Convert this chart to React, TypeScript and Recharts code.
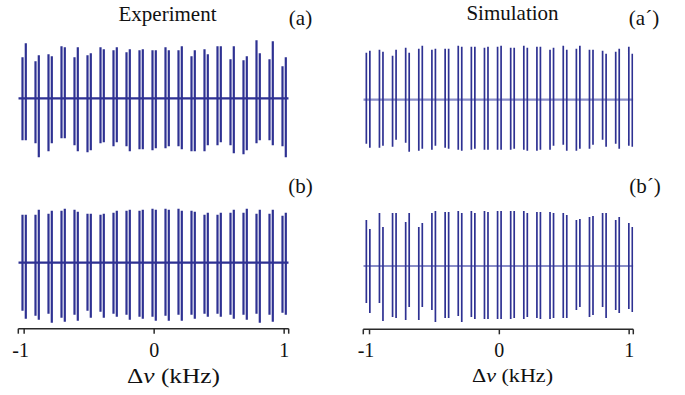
import React from 'react';
import { LineChart, Line, XAxis, YAxis } from 'recharts';

const W = 685;
const H = 395;
const FONT = 'Liberation Serif';
const INK = '#2e3192';
const SIM_BASE = '#8a8ec8';
const AXIS = '#2a2a2a';

// tick labels
const tickValues = [-1, 0, 1];

// line-pair centre positions (kHz)
const expPositions = [-1.0, -0.9, -0.8, -0.7, -0.6, -0.5, -0.4, -0.3, -0.2, -0.1, 0, 0.1, 0.2, 0.3, 0.4, 0.5, 0.6, 0.7, 0.8, 0.9, 1.0];
const simPositions = [-1.011, -0.91, -0.809, -0.708, -0.607, -0.506, -0.404, -0.303, -0.202, -0.101, 0, 0.101, 0.202, 0.303, 0.404, 0.506, 0.607, 0.708, 0.809, 0.91, 1.011];
const expSplit = 0.0127;
const simSplit = 0.0135;

// (a) Experiment
const aTop1 = [41, 37, 44, 52, 41, 43, 51, 48, 46, 48, 48, 51, 48, 42, 49, 52, 39, 38, 58, 39, 32];
const aBot1 = [-42, -45, -53, -40, -47, -54, -45, -48, -48, -51, -52, -50, -48, -53, -53, -47, -47, -56, -45, -42, -48];
const aTop2 = [55, 43, 42, 51, 51, 45, 49, 51, 49, 49, 48, 48, 52, 48, 44, 52, 52, 42, 45, 57, 41];
const aBot2 = [-42, -59, -45, -40, -53, -52, -44, -44, -53, -51, -50, -48, -51, -53, -47, -44, -55, -52, -42, -47, -59];

// (b) Experiment
const bTop1 = [48, 48, 49, 52, 53, 49, 48, 50, 52, 52, 54, 54, 54, 52, 48, 48, 50, 50, 49, 49, 47];
const bBot1 = [-48, -53, -51, -55, -52, -48, -49, -51, -52, -54, -54, -53, -52, -52, -51, -51, -52, -52, -51, -52, -50];
const bTop2 = [48, 53, 52, 54, 51, 49, 49, 52, 53, 53, 53, 53, 52, 51, 50, 50, 53, 54, 53, 53, 50];
const bBot2 = [-56, -57, -60, -59, -58, -55, -55, -54, -57, -56, -58, -58, -58, -56, -54, -54, -56, -57, -60, -59, -52];

// (a') Simulation
const apTop1 = [47, 50, 44, 52, 51, 50, 51, 54, 53, 52, 53, 52, 54, 53, 50, 54, 51, 50, 49, 48, 53];
const apBot1 = [-44, -48, -47, -43, -51, -50, -48, -50, -50, -50, -50, -50, -50, -51, -50, -45, -51, -49, -40, -44, -46];
const apTop2 = [49, 48, 50, 47, 54, 51, 51, 53, 53, 53, 54, 52, 52, 53, 52, 50, 54, 50, 46, 51, 46];
const apBot2 = [-48, -46, -40, -52, -49, -46, -49, -51, -49, -50, -50, -49, -51, -50, -46, -51, -49, -45, -47, -49, -47];

// (b') Simulation
const bpTop1 = [46, 53, 53, 44, 39, 53, 54, 55, 55, 55, 55, 55, 55, 54, 54, 53, 46, 49, 53, 46, 43];
const bpBot1 = [-37, -37, -51, -54, -54, -44, -52, -50, -51, -53, -53, -53, -53, -52, -53, -52, -44, -51, -41, -44, -43];
const bpTop2 = [37, 39, 53, 53, 43, 55, 54, 53, 53, 54, 55, 55, 53, 54, 53, 51, 47, 50, 53, 49, 39];
const bpBot2 = [-47, -55, -52, -41, -41, -56, -52, -56, -53, -53, -53, -52, -51, -53, -52, -52, -41, -49, -52, -47, -46];

type Pt = { x: number; y: number | null };

// experiment: one continuous trace (baseline + dispersive lines)
function buildExp(pos: number[], t1: number[], b1: number[], t2: number[], b2: number[], x0: number, x1: number): Pt[] {
  const out: Pt[] = [{ x: x0, y: 0 }];
  pos.forEach((p, i) => {
    const xa = p - expSplit;
    const xb = p + expSplit;
    out.push({ x: xa, y: 0 }, { x: xa, y: t1[i] }, { x: xa, y: b1[i] }, { x: xa, y: 0 });
    out.push({ x: xb, y: 0 }, { x: xb, y: t2[i] }, { x: xb, y: b2[i] }, { x: xb, y: 0 });
  });
  out.push({ x: x1, y: 0 });
  return out;
}

// simulation: separate vertical lines (baseline drawn separately)
function buildSim(pos: number[], t1: number[], b1: number[], t2: number[], b2: number[]): Pt[] {
  const out: Pt[] = [];
  pos.forEach((p, i) => {
    const xa = p - simSplit;
    const xb = p + simSplit;
    out.push({ x: xa, y: t1[i] }, { x: xa, y: b1[i] }, { x: xa, y: null });
    out.push({ x: xb, y: t2[i] }, { x: xb, y: b2[i] }, { x: xb, y: null });
  });
  return out;
}

const leftDomain: [number, number] = [-1.045, 1.035];
const rightDomain: [number, number] = [-1.048, 1.032];

const txt = (size: number): React.CSSProperties => ({ fontFamily: FONT, fontSize: size });

const Tick = (props: any) => {
  const { x, y, payload } = props;
  if (!tickValues.includes(payload.value)) return <g />;
  const dx = payload.value < 0 ? -3.5 : 0;
  return (
    <text x={x + dx} y={y + 23} textAnchor="middle" style={txt(20)} fill="#111">
      {String(payload.value)}
    </text>
  );
};

type PanelProps = {
  data: Pt[];
  xDomain: [number, number];
  yMax: number;
  margin: { top: number; right: number; bottom: number; left: number };
  showAxis: boolean;
  sim: boolean;
};

function Panel({ data, xDomain, yMax, margin, showAxis, sim }: PanelProps) {
  const base = [
    { x: xDomain[0], b: 0 },
    { x: xDomain[1], b: 0 },
  ];
  return (
    <div style={{ position: 'absolute', left: 0, top: 0 }}>
      <LineChart width={W} height={H} margin={margin}>
        <XAxis
          dataKey="x"
          type="number"
          domain={xDomain}
          allowDataOverflow
          hide={!showAxis}
          height={30}
          ticks={[xDomain[0], -1, 0, 1, xDomain[1]]}
          interval={0}
          tickSize={5}
          tickMargin={0}
          axisLine={{ stroke: AXIS, strokeWidth: 1.5 }}
          tickLine={{ stroke: AXIS, strokeWidth: 1.5 }}
          tick={<Tick />}
        />
        <YAxis type="number" domain={[-yMax, yMax]} allowDataOverflow hide width={0} />
        {sim && (
          <Line
            data={base}
            dataKey="b"
            type="linear"
            stroke={SIM_BASE}
            strokeWidth={2.2}
            dot={false}
            activeDot={false}
            isAnimationActive={false}
          />
        )}
        <Line
          data={data}
          dataKey="y"
          type="linear"
          stroke={INK}
          strokeWidth={sim ? 1.7 : 2.2}
          dot={false}
          activeDot={false}
          connectNulls={false}
          isAnimationActive={false}
        />
      </LineChart>
    </div>
  );
}

export default function App() {
  const dataA = buildExp(expPositions, aTop1, aBot1, aTop2, aBot2, leftDomain[0], leftDomain[1]);
  const dataB = buildExp(expPositions, bTop1, bBot1, bTop2, bBot2, leftDomain[0], leftDomain[1]);
  const dataAp = buildSim(simPositions, apTop1, apBot1, apTop2, apBot2);
  const dataBp = buildSim(simPositions, bpTop1, bpBot1, bpTop2, bpBot2);

  return (
    <div style={{ position: 'absolute', left: 0, top: 0, width: W, height: H, background: '#fff', overflow: 'hidden' }}>
      <Panel data={dataA} xDomain={leftDomain} yMax={66} margin={{ top: 32.3, bottom: 230.7, left: 18.3, right: 396.3 }} showAxis={false} sim={false} />
      <Panel data={dataB} xDomain={leftDomain} yMax={66} margin={{ top: 196.7, bottom: 36.3, left: 18.3, right: 396.3 }} showAxis={true} sim={false} />
      <Panel data={dataAp} xDomain={rightDomain} yMax={66} margin={{ top: 33.7, bottom: 229.3, left: 363.3, right: 51.7 }} showAxis={false} sim={true} />
      <Panel data={dataBp} xDomain={rightDomain} yMax={63.3} margin={{ top: 202.7, bottom: 35.7, left: 363.3, right: 51.7 }} showAxis={true} sim={true} />
      <svg width={W} height={H} style={{ position: 'absolute', left: 0, top: 0, pointerEvents: 'none' }}>
        <text x={167.5} y={21} textAnchor="middle" style={txt(21)} fill="#111">Experiment</text>
        <text x={300.5} y={25} textAnchor="middle" style={txt(21)} fill="#111">(a)</text>
        <text x={512.5} y={20} textAnchor="middle" style={txt(21)} fill="#111">Simulation</text>
        <text x={644} y={25} textAnchor="middle" style={txt(21)} fill="#111">(a´)</text>
        <text x={300.5} y={193} textAnchor="middle" style={txt(21)} fill="#111">(b)</text>
        <text x={645} y={193} textAnchor="middle" style={txt(21)} fill="#111">(b´)</text>
        <text x={127} y={383} textLength={93} lengthAdjust="spacingAndGlyphs" style={txt(21)} fill="#111">
          Δ<tspan style={{ fontStyle: 'italic' }}>ν</tspan> (kHz)
        </text>
        <text x={472} y={382} textLength={81} lengthAdjust="spacingAndGlyphs" style={txt(19)} fill="#111">
          Δ<tspan style={{ fontStyle: 'italic' }}>ν</tspan> (kHz)
        </text>
      </svg>
    </div>
  );
}
